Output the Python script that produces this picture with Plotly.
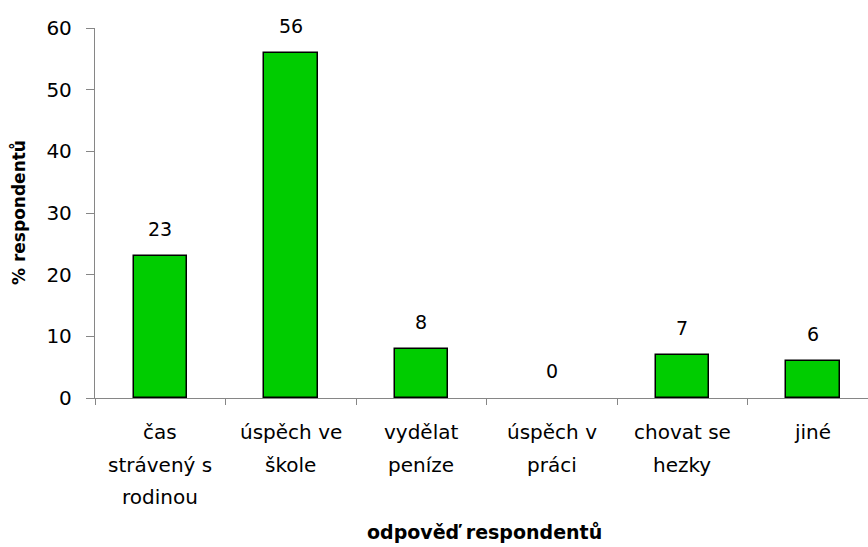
import plotly.graph_objects as go

kategorie = ["čas strávený s rodinou", "úspěch ve škole", "vydělat peníze",
             "úspěch v práci", "chovat se hezky", "jiné"]
# řádky popisků tak, jak jsou zalomené v grafu
popisky = [["čas", "strávený s", "rodinou"], ["úspěch ve", "škole"], ["vydělat", "peníze"],
           ["úspěch v", "práci"], ["chovat se", "hezky"], ["jiné"]]
hodnoty = [23, 56, 8, 0, 7, 6]
y_ticks = [0, 10, 20, 30, 40, 50, 60]

FONT = "DejaVu Sans, sans-serif"
GREY = "#868686"

fig = go.Figure()
fig.add_trace(go.Bar(x=kategorie, y=hodnoty, width=0.41,
                     marker=dict(color="#00CC00",
                                 line=dict(color="black",
                                           width=[1.5 if v > 0 else 0 for v in hodnoty]))))

# popisky hodnot nad sloupci
for k, v in zip(kategorie, hodnoty):
    fig.add_annotation(x=k, y=v, xref="x", yref="y", text=str(v), showarrow=False,
                       yanchor="middle", yshift=27, font=dict(size=19, color="black"))

# popisky kategorií (víc řádků s větším řádkováním)
for k, radky in zip(kategorie, popisky):
    for i, r in enumerate(radky):
        fig.add_annotation(x=k, y=0, xref="x", yref="paper", text=r, showarrow=False,
                           yanchor="middle", yshift=-(34 + 32.5 * i),
                           font=dict(size=20, color="black"))

fig.add_annotation(x=0.504, y=0, xref="paper", yref="paper", text="<b>odpověď respondentů</b>",
                   showarrow=False, yanchor="middle", yshift=-134,
                   font=dict(size=19, color="black"))
fig.add_annotation(x=0, y=0.5, xref="paper", yref="paper", text="<b>% respondentů</b>",
                   showarrow=False, textangle=-90, xanchor="center", xshift=-77,
                   font=dict(size=17, color="black"))

fig.update_layout(
    width=868, height=547,
    margin=dict(l=95, r=0, t=28, b=149),
    plot_bgcolor="white", paper_bgcolor="white",
    showlegend=False, bargap=0,
    font=dict(family=FONT, size=19, color="black"),
)
fig.update_xaxes(type="category", range=[-0.5, 5.5 - 10 / 130.5],
                 showline=True, linecolor=GREY, linewidth=1.3,
                 ticks="outside", tickson="boundaries", ticklen=6, tickcolor=GREY, tickwidth=1.3,
                 showticklabels=False, showgrid=False, zeroline=False)
fig.update_yaxes(range=[0, 60], tickvals=y_ticks, showline=True, linecolor=GREY, linewidth=1.3,
                 ticks="outside", ticklen=8, tickcolor=GREY, tickwidth=1.3,
                 ticklabelstandoff=10, showgrid=False, zeroline=False,
                 tickfont=dict(size=20, color="black"))

fig.write_html("out.html", config={"displayModeBar": False},
               post_script="document.body.style.margin='0';")
